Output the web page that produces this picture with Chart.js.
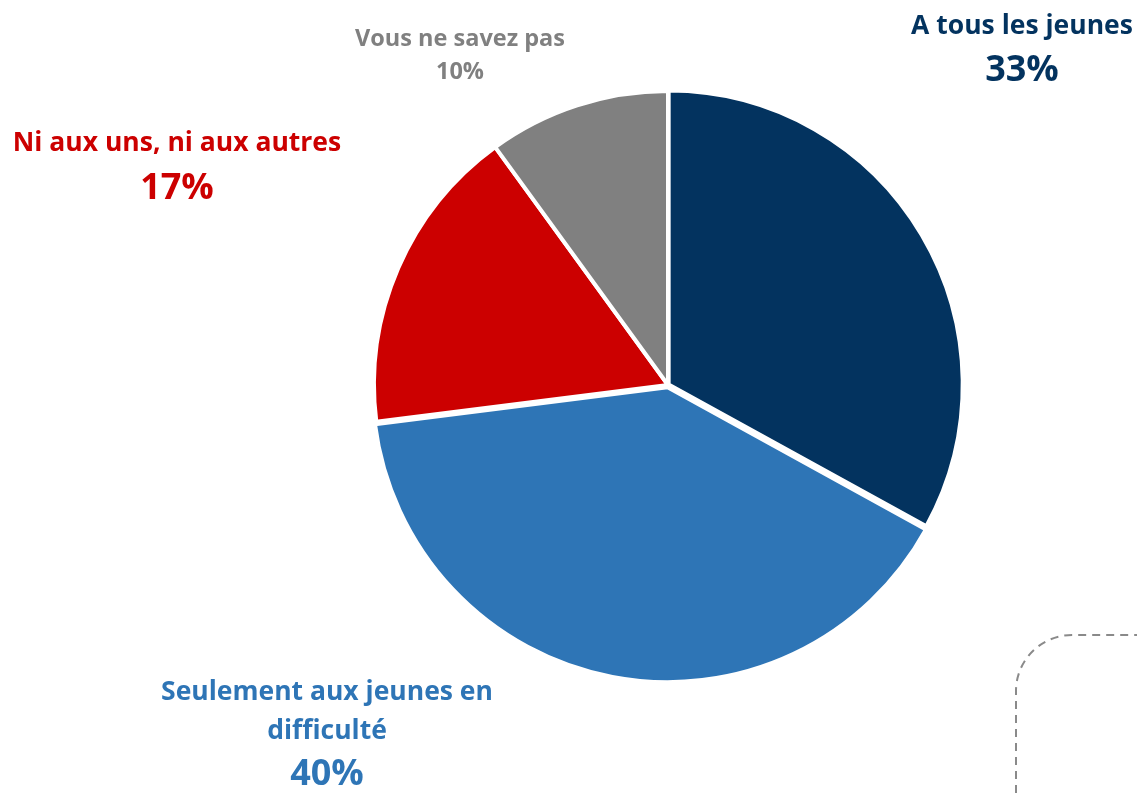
<!DOCTYPE html>
<html>
<head>
<meta charset="utf-8">
<script src="https://cdn.jsdelivr.net/npm/chart.js@4.4.0/dist/chart.umd.min.js"></script>
<style>
  html, body { margin: 0; padding: 0; background: #ffffff; }
  #wrap { position: relative; width: 1137px; height: 793px; }
</style>
</head>
<body>
<div id="wrap"><canvas id="pieChart" width="1137" height="793"></canvas></div>
<script>
// Daten: Kategorien im Uhrzeigersinn ab 12 Uhr
const categories = ['A tous les jeunes', 'Seulement aux jeunes en difficulté', 'Ni aux uns, ni aux autres', 'Vous ne savez pas'];
const values = [33, 40, 17, 10];
const colors = ['#03335F', '#2E75B6', '#CC0000', '#808080'];
const sliceOffsets = [3, 9, 0, 0];

// Beschriftungen ausserhalb des Kreises (Text + Prozent)
const labelLines = [
    [{ t: 'A tous les jeunes', x: 1022, y: 26, size: 26.5 }, { t: values[0] + '%', x: 1022, y: 71, size: 36 }],
    [{ t: 'Seulement aux jeunes en', x: 327, y: 692, size: 26.5 }, { t: 'difficulté', x: 327, y: 731, size: 26.5 }, { t: values[1] + '%', x: 327, y: 775, size: 36 }],
    [{ t: 'Ni aux uns, ni aux autres', x: 177, y: 143, size: 26.5 }, { t: values[2] + '%', x: 177, y: 189, size: 36 }],
    [{ t: 'Vous ne savez pas', x: 460, y: 39, size: 23.5 }, { t: values[3] + '%', x: 460, y: 72, size: 23.5 }]
];

const labelPlugin = {
    id: 'outerLabels',
    afterDraw(chart) {
        const c = chart.ctx;
        c.save();
        c.textAlign = 'center';
        c.textBaseline = 'middle';
        labelLines.forEach((lines, i) => {
            c.fillStyle = colors[i];
            lines.forEach(l => {
                c.font = 'bold ' + l.size + 'px "Open Sans", sans-serif';
                c.fillText(l.t, l.x, l.y);
            });
        });
        // gestrichelte Ecke unten rechts (Deko)
        c.strokeStyle = '#8a8a8a';
        c.lineWidth = 2;
        c.setLineDash([8, 6]);
        c.beginPath();
        c.moveTo(1016, 793);
        c.lineTo(1016, 691);
        c.arcTo(1016, 635, 1072, 635, 56);
        c.lineTo(1137, 635);
        c.stroke();
        c.restore();
    }
};

const ctx = document.getElementById('pieChart').getContext('2d');
const pieChart = new Chart(ctx, {
    type: 'pie',
    data: {
        labels: categories,
        datasets: [{
            data: values,
            backgroundColor: colors,
            borderColor: '#ffffff',
            borderWidth: 4,
            offset: sliceOffsets
        }]
    },
    options: {
        responsive: false,
        animation: false,
        radius: 294,
        layout: { padding: { left: 300, right: 101, top: 50, bottom: 73 } },
        plugins: {
            legend: { display: false },
            tooltip: { enabled: false }
        }
    },
    plugins: [labelPlugin]
});
</script>
</body>
</html>
